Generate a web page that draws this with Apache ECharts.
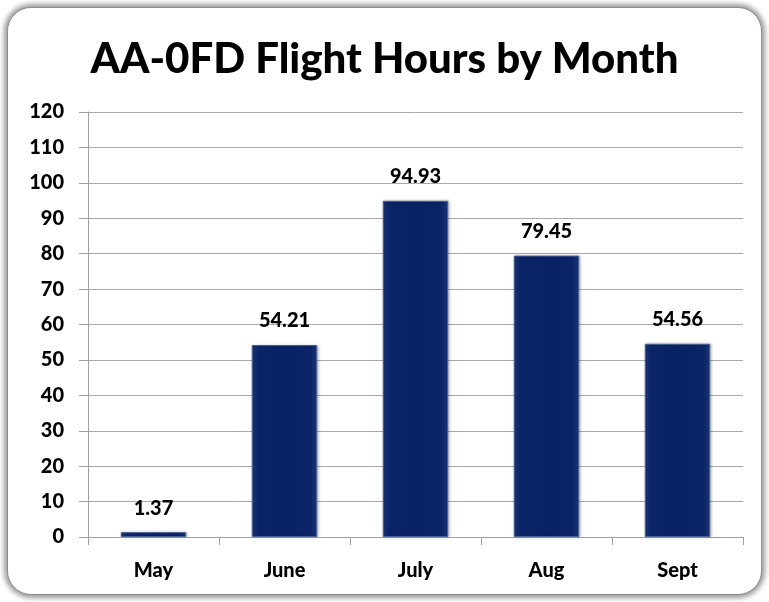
<!DOCTYPE html>
<html>
<head>
<meta charset="utf-8">
<script src="https://cdn.jsdelivr.net/npm/echarts@6/dist/echarts.min.js"></script>
<style>
  html, body { margin: 0; padding: 0; background: #fff; }
  #frame {
    position: absolute; left: 7px; top: 7px; width: 753px; height: 586px;
    border: 1px solid #8c8c8c; border-radius: 24px;
    box-shadow: 0 0 5px 3px rgba(90,90,90,0.6);
    background: #fff;
  }
  #chart { position: absolute; left: 0; top: 0; width: 769px; height: 602px; }
</style>
</head>
<body>
<div id="frame"></div>
<div id="chart"></div>
<script>
// 月份与飞行小时
var months = ['May', 'June', 'July', 'Aug', 'Sept'];
var hours = [1.37, 54.21, 94.93, 79.45, 54.56];
var yTicks = { min: 0, max: 120, step: 10 };

var chart = echarts.init(document.getElementById('chart'));
chart.setOption({
    title: {
        text: 'AA-0FD Flight Hours by Month',
        left: 'center',
        top: 33,
        textStyle: { fontFamily: 'Lato', fontWeight: 900, fontSize: 42, color: '#000' }
    },
    grid: { left: 88, right: 26, top: 112, bottom: 65 },
    xAxis: {
        type: 'category',
        data: months,
        axisLine: { lineStyle: { color: '#a0a0a0', width: 1 } },
        axisTick: { show: true, length: 8, lineStyle: { color: '#a0a0a0' } },
        axisLabel: { margin: 24, fontFamily: 'Lato', fontWeight: 900, fontSize: 20, color: '#000' }
    },
    yAxis: {
        type: 'value',
        min: yTicks.min,
        max: yTicks.max,
        interval: yTicks.step,
        axisLine: { show: true, lineStyle: { color: '#a0a0a0', width: 1 } },
        axisTick: { show: true, length: 9, lineStyle: { color: '#a0a0a0' } },
        axisLabel: { margin: 24, fontFamily: 'Lato', fontWeight: 900, fontSize: 20, color: '#000' },
        splitLine: { show: true, lineStyle: { color: '#a8a8a8', width: 1 } }
    },
    series: [{
        type: 'bar',
        data: hours,
        barWidth: '50%',
        itemStyle: {
            color: new echarts.graphic.LinearGradient(0, 0, 1, 0, [
                { offset: 0, color: '#1c3878' },
                { offset: 0.1, color: '#0b2466' },
                { offset: 0.5, color: '#082265' },
                { offset: 0.9, color: '#0b2466' },
                { offset: 1, color: '#1c3878' }
            ]),
            borderColor: '#4a5f94',
            borderWidth: 1,
            shadowColor: 'rgba(0,0,0,0.25)',
            shadowBlur: 3,
            shadowOffsetX: 1
        },
        label: {
            show: true,
            position: 'top',
            distance: 14,
            fontFamily: 'Lato',
            fontWeight: 900,
            fontSize: 20,
            color: '#000',
            formatter: function (p) { return p.value.toFixed(2); }
        }
    }]
});
</script>
</body>
</html>
